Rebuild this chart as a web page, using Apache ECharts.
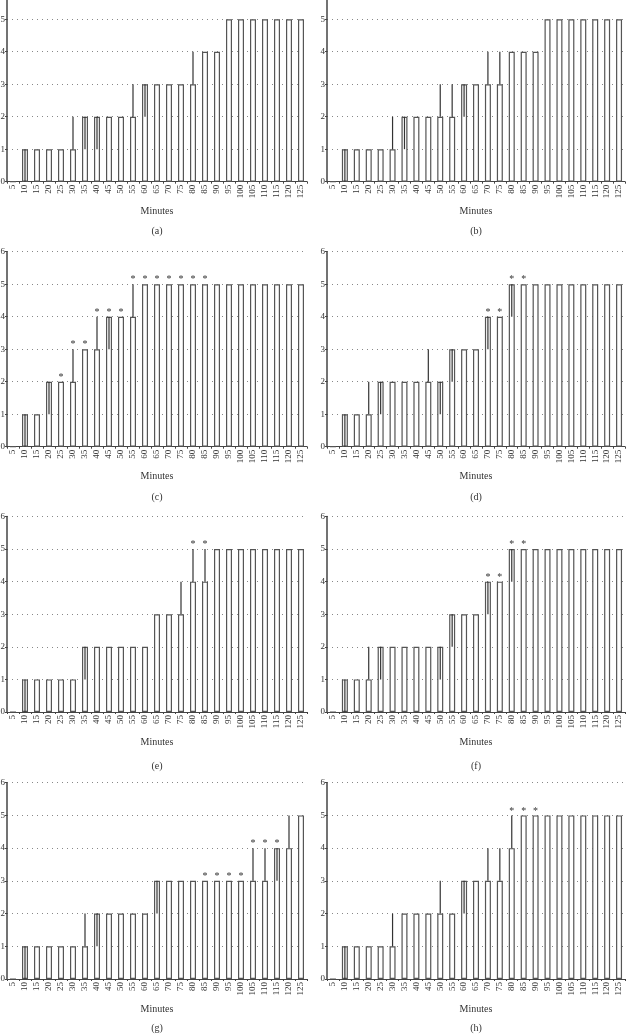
<!DOCTYPE html>
<html><head><meta charset="utf-8">
<script src="https://cdn.jsdelivr.net/npm/echarts@6/dist/echarts.min.js"></script>
<style>html,body{margin:0;padding:0;background:#fff;overflow:hidden}#c{width:626px;height:1048px;margin-top:-14px}</style>
</head><body><div id="c"></div>
<script>
const minutes = ['5','10','15','20','25','30','35','40','45','50','55','60','65','70','75','80','85','90','95','100','105','110','115','120','125'];
const yTicks = [0,1,2,3,4,5,6];
const panelLabels = ['(a)','(b)','(c)','(d)','(e)','(f)','(g)','(h)'];

const medA  = [0,1,1,1,1,1,2,2,2,2,2,3,3,3,3,3,4,4,5,5,5,5,5,5,5];
const lowA  = [0,0,1,1,1,1,1,1,2,2,2,2,3,3,3,3,4,4,5,5,5,5,5,5,5];
const highA = [0,1,1,1,1,2,2,2,2,2,3,3,3,3,3,4,4,4,5,5,5,5,5,5,5];
const starA = [];

const medB  = [0,1,1,1,1,1,2,2,2,2,2,3,3,3,3,4,4,4,5,5,5,5,5,5,5];
const lowB  = [0,0,1,1,1,1,1,2,2,2,2,2,3,3,3,4,4,4,5,5,5,5,5,5,5];
const highB = [0,1,1,1,1,2,2,2,2,3,3,3,3,4,4,4,4,4,5,5,5,5,5,5,5];
const starB = [];

const medC  = [0,1,1,2,2,2,3,3,4,4,4,5,5,5,5,5,5,5,5,5,5,5,5,5,5];
const lowC  = [0,0,1,1,2,2,3,3,3,4,4,5,5,5,5,5,5,5,5,5,5,5,5,5,5];
const highC = [0,1,1,2,2,3,3,4,4,4,5,5,5,5,5,5,5,5,5,5,5,5,5,5,5];
const starC = ['25','30','35','40','45','50','55','60','65','70','75','80','85'];

const medD  = [0,1,1,1,2,2,2,2,2,2,3,3,3,4,4,5,5,5,5,5,5,5,5,5,5];
const lowD  = [0,0,1,1,1,2,2,2,2,1,2,3,3,3,4,4,5,5,5,5,5,5,5,5,5];
const highD = [0,1,1,2,2,2,2,2,3,2,3,3,3,4,4,5,5,5,5,5,5,5,5,5,5];
const starD = ['70','75','80','85'];

const medE  = [0,1,1,1,1,1,2,2,2,2,2,2,3,3,3,4,4,5,5,5,5,5,5,5,5];
const lowE  = [0,0,1,1,1,1,1,2,2,2,2,2,3,3,3,4,4,5,5,5,5,5,5,5,5];
const highE = [0,1,1,1,1,1,2,2,2,2,2,2,3,3,4,5,5,5,5,5,5,5,5,5,5];
const starE = ['80','85'];

const medF  = [0,1,1,1,2,2,2,2,2,2,3,3,3,4,4,5,5,5,5,5,5,5,5,5,5];
const lowF  = [0,0,1,1,1,2,2,2,2,1,2,3,3,3,4,4,5,5,5,5,5,5,5,5,5];
const highF = [0,1,1,2,2,2,2,2,2,2,3,3,3,4,4,5,5,5,5,5,5,5,5,5,5];
const starF = ['70','75','80','85'];

const medG  = [0,1,1,1,1,1,1,2,2,2,2,2,3,3,3,3,3,3,3,3,3,3,4,4,5];
const lowG  = [0,0,1,1,1,1,1,1,2,2,2,2,2,3,3,3,3,3,3,3,3,3,3,4,5];
const highG = [0,1,1,1,1,1,2,2,2,2,2,2,3,3,3,3,3,3,3,3,4,4,4,5,5];
const starG = ['85','90','95','100','105','110','115'];

const medH  = [0,1,1,1,1,1,2,2,2,2,2,3,3,3,3,4,5,5,5,5,5,5,5,5,5];
const lowH  = [0,0,1,1,1,1,2,2,2,2,2,2,3,3,3,4,5,5,5,5,5,5,5,5,5];
const highH = [0,1,1,1,1,2,2,2,2,3,2,3,3,4,4,5,5,5,5,5,5,5,5,5,5];
const starH = ['80','85','90'];

const panels = [
  {med:medA, low:lowA, high:highA, star:starA},
  {med:medB, low:lowB, high:highB, star:starB},
  {med:medC, low:lowC, high:highC, star:starC},
  {med:medD, low:lowD, high:highD, star:starD},
  {med:medE, low:lowE, high:highE, star:starE},
  {med:medF, low:lowF, high:highF, star:starF},
  {med:medG, low:lowG, high:highG, star:starG},
  {med:medH, low:lowH, high:highH, star:starH}
];

// layout (container is shifted up 14px so the first row's top is cropped as in the reference)
const colLeft = [7, 327], colWidth = [300, 298];
const rowTop = [0.7, 265.7, 530.5, 796.7], rowHeight = [195, 195, 195.5, 196.3];
const labelY = [245, 511, 780, 1042];
const FONT = 'Liberation Serif';

const grids = [], xAxes = [], yAxes = [], series = [], graphics = [];
panels.forEach((p, k) => {
  const r = Math.floor(k / 2), c = k % 2;
  grids.push({left: colLeft[c], width: colWidth[c], top: rowTop[r], height: rowHeight[r],
    containLabel: false, outerBoundsMode: 'none'});
  xAxes.push({
    type: 'category', gridIndex: k, data: minutes, boundaryGap: true,
    axisLine: {lineStyle: {color: '#444', width: 1.2}},
    axisTick: {show: true, length: 2, lineStyle: {color: '#444'}},
    axisLabel: {rotate: 90, interval: 0, margin: 3, fontFamily: FONT, fontSize: 9, color: '#333'},
    name: 'Minutes', nameLocation: 'middle', nameGap: 25,
    nameTextStyle: {fontFamily: FONT, fontSize: 10, color: '#333', verticalAlign: 'top'}
  });
  yAxes.push({
    type: 'value', gridIndex: k, min: yTicks[0], max: yTicks[yTicks.length - 1], interval: 1,
    axisLine: {show: true, lineStyle: {color: '#444', width: 1.5}},
    axisTick: {show: true, length: 2, lineStyle: {color: '#444'}},
    axisLabel: {margin: 2, fontFamily: FONT, fontSize: 9, color: '#333'},
    splitLine: {show: true, lineStyle: {color: '#888', type: [1, 4], width: 1}}
  });
  series.push({
    type: 'bar', xAxisIndex: k, yAxisIndex: k, data: p.med, barWidth: 6,
    itemStyle: {color: '#fff', borderColor: '#555', borderWidth: 1.2},
    silent: true, animation: false
  });
  const wData = [];
  p.med.forEach((v, i) => { if (p.low[i] !== p.high[i]) wData.push([i, p.low[i], p.high[i]]); });
  series.push({
    type: 'custom', xAxisIndex: k, yAxisIndex: k, data: wData, encode: {x: 0, y: [1, 2]},
    renderItem: (params, api) => {
      const a = api.coord([api.value(0), api.value(1)]);
      const b = api.coord([api.value(0), api.value(2)]);
      return {type: 'line', shape: {x1: a[0], y1: a[1], x2: b[0], y2: b[1]}, style: {stroke: '#333', lineWidth: 1.2}};
    },
    z: 5, silent: true, animation: false
  });
  const sData = p.star.map(m => { const i = minutes.indexOf(m); return [i, Math.max(p.med[i], p.high[i])]; });
  series.push({
    type: 'custom', xAxisIndex: k, yAxisIndex: k, data: sData, encode: {x: 0, y: 1},
    renderItem: (params, api) => {
      const a = api.coord([api.value(0), api.value(1)]);
      return {type: 'text', x: a[0], y: a[1] - 4.5,
        style: {text: '*', align: 'center', verticalAlign: 'middle', font: '10px "' + FONT + '"', fill: '#333'}};
    },
    z: 6, silent: true, animation: false
  });
  graphics.push({type: 'text', x: colLeft[c] + colWidth[c] / 2, y: labelY[r],
    style: {text: panelLabels[k], align: 'center', verticalAlign: 'middle', font: '10px "' + FONT + '"', fill: '#333'}});
});

const chart = echarts.init(document.getElementById('c'), null, {renderer: 'canvas'});
chart.setOption({
  animation: false, backgroundColor: '#fff',
  grid: grids, xAxis: xAxes, yAxis: yAxes, series: series, graphic: graphics
});
</script></body></html>
